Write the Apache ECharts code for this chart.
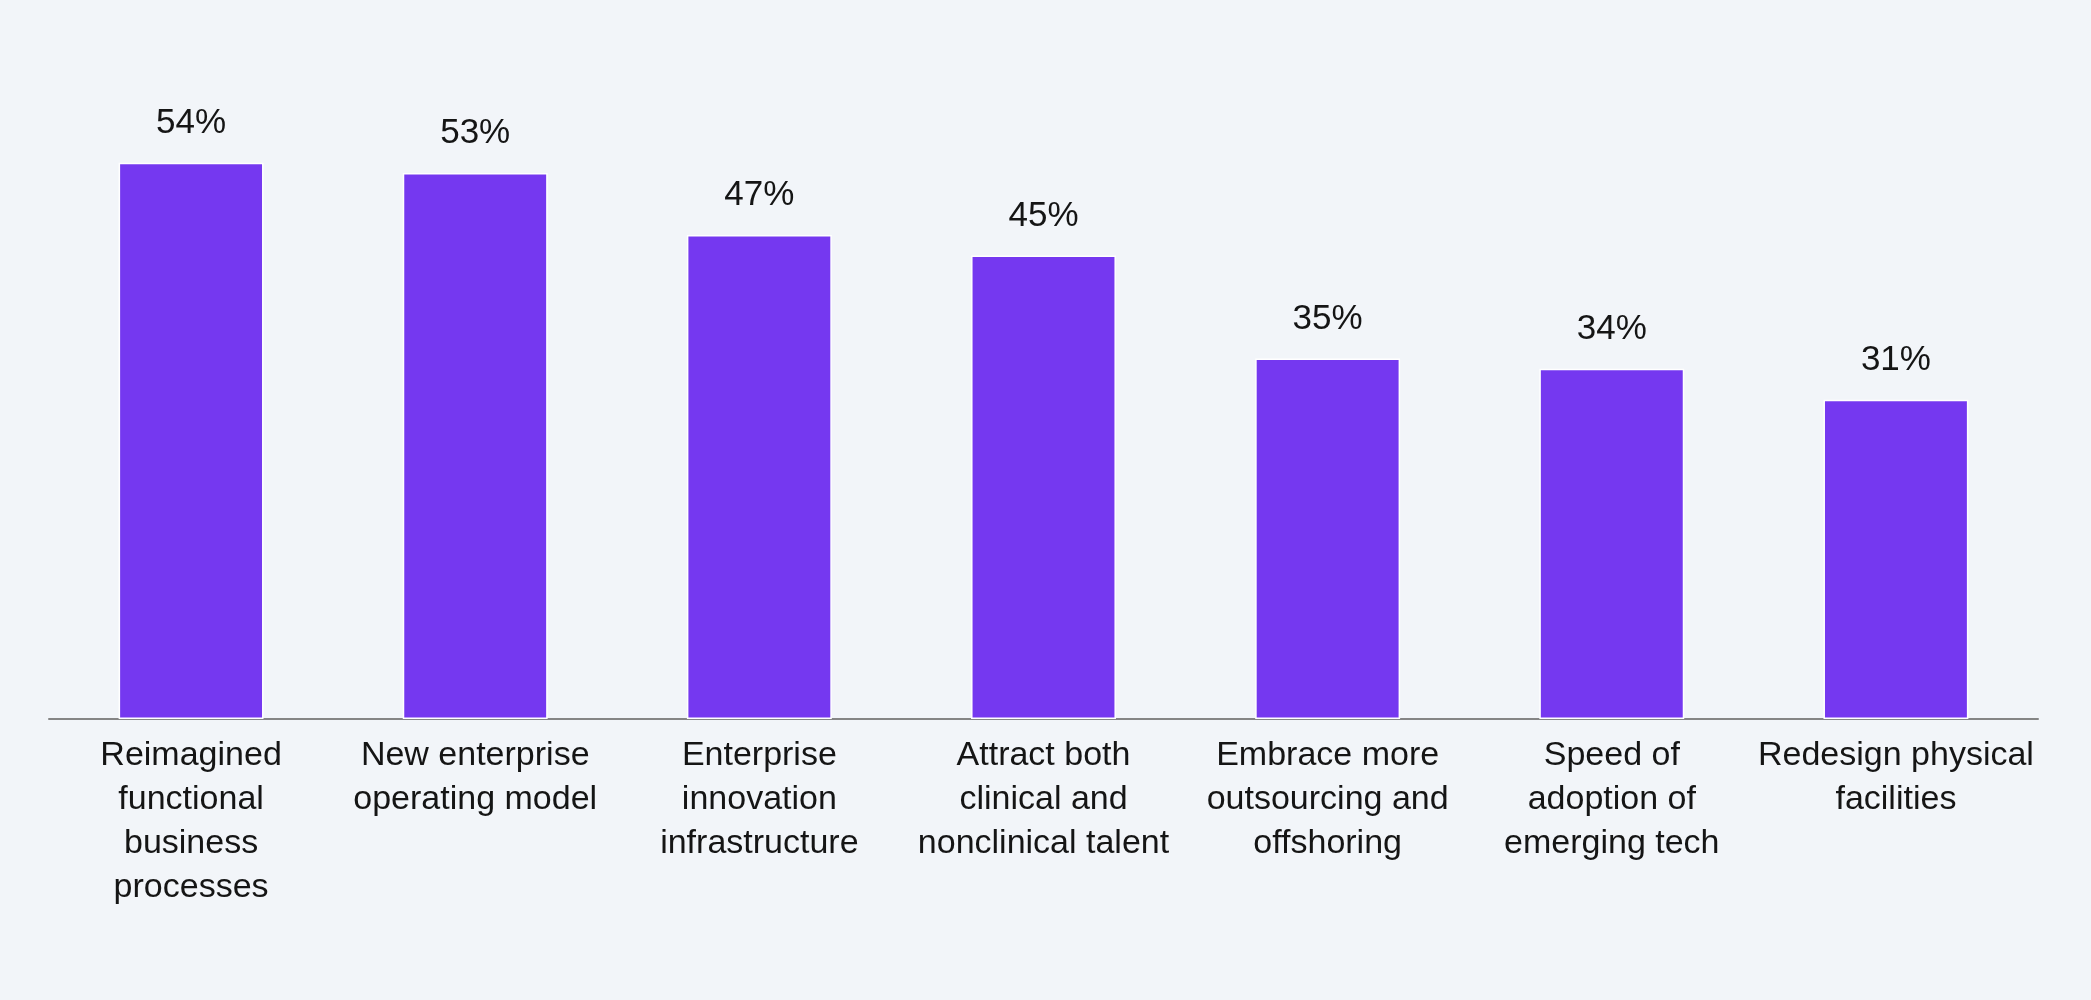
<!DOCTYPE html>
<html>
<head>
<meta charset="utf-8">
<script src="https://cdn.jsdelivr.net/npm/echarts@6/dist/echarts.min.js"></script>
<style>
html,body{margin:0;padding:0;background:#f2f5f9;}
#main{width:2091px;height:1000px;}
</style>
</head>
<body>
<div id="main"></div>
<script>
let categories=[
	"Reimagined\nfunctional\nbusiness\nprocesses",
	"New enterprise\noperating model",
	"Enterprise\ninnovation\ninfrastructure",
	"Attract both\nclinical and\nnonclinical talent",
	"Embrace more\noutsourcing and\noffshoring",
	"Speed of\nadoption of\nemerging tech",
	"Redesign physical\nfacilities"
];
let values=[54,53,47,45,35,34,31];

var myChart=echarts.init(document.querySelector("#main"));
let option={
	backgroundColor:"#f2f5f9",
	textStyle:{
		fontFamily:"Liberation Sans"
	},
	grid:{
		left:49,
		right:53,
		top:101,
		bottom:281
	},
	xAxis:{
		type:"category",
		data:categories,
		axisTick:{show:false},
		axisLine:{
			lineStyle:{color:"#858585",width:2}
		},
		axisLabel:{
			color:"#151515",
			fontSize:34,
			lineHeight:44,
			margin:15,
			interval:0
		}
	},
	yAxis:{
		type:"value",
		min:0,
		max:60,
		show:false
	},
	series:[{
		type:"bar",
		data:values,
		barWidth:"51%",
		itemStyle:{
			color:"#7538f0",
			borderColor:"#ffffff",
			borderWidth:1.5
		},
		label:{
			show:true,
			position:"top",
			distance:22,
			formatter:"{c}%",
			color:"#151515",
			fontSize:35
		}
	}]
};
myChart.setOption(option);
</script>
</body>
</html>
